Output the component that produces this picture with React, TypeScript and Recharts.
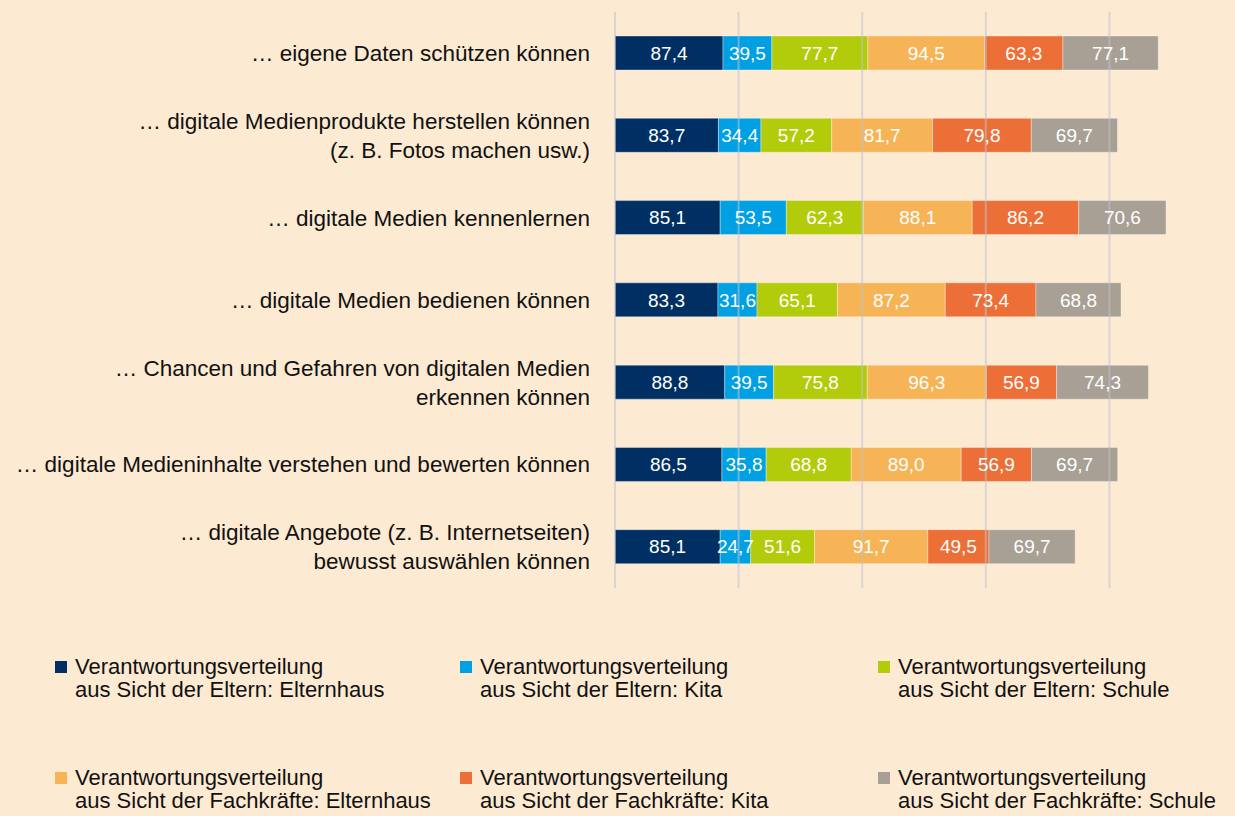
import { BarChart, Bar, XAxis, YAxis, ReferenceLine, LabelList } from 'recharts';

const categories = [
  '…  eigene Daten schützen können',
  '…  digitale Medienprodukte herstellen können\n(z. B. Fotos machen usw.)',
  '…  digitale Medien kennenlernen',
  '…  digitale Medien bedienen können',
  '…  Chancen und Gefahren von digitalen Medien\nerkennen können',
  '…  digitale Medieninhalte verstehen und bewerten können',
  '…  digitale Angebote (z. B. Internetseiten)\nbewusst auswählen können',
];

const elternElternhaus = [87.4, 83.7, 85.1, 83.3, 88.8, 86.5, 85.1];
const elternKita = [39.5, 34.4, 53.5, 31.6, 39.5, 35.8, 24.7];
const elternSchule = [77.7, 57.2, 62.3, 65.1, 75.8, 68.8, 51.6];
const fachElternhaus = [94.5, 81.7, 88.1, 87.2, 96.3, 89.0, 91.7];
const fachKita = [63.3, 79.8, 86.2, 73.4, 56.9, 56.9, 49.5];
const fachSchule = [77.1, 69.7, 70.6, 68.8, 74.3, 69.7, 69.7];

const gridTicks = [0, 100, 200, 300, 400];

const series = [
  { key: 'eE', name: 'Verantwortungsverteilung\naus Sicht der Eltern: Elternhaus', color: '#003063', values: elternElternhaus },
  { key: 'eK', name: 'Verantwortungsverteilung\naus Sicht der Eltern: Kita', color: '#00a0e3', values: elternKita },
  { key: 'eS', name: 'Verantwortungsverteilung\naus Sicht der Eltern: Schule', color: '#b2cb0b', values: elternSchule },
  { key: 'fE', name: 'Verantwortungsverteilung\naus Sicht der Fachkräfte: Elternhaus', color: '#f6b457', values: fachElternhaus },
  { key: 'fK', name: 'Verantwortungsverteilung\naus Sicht der Fachkräfte: Kita', color: '#ec6f37', values: fachKita },
  { key: 'fS', name: 'Verantwortungsverteilung\naus Sicht der Fachkräfte: Schule', color: '#a89f95', values: fachSchule },
];

const data = categories.map((name, i) => {
  const row: any = { name };
  series.forEach((s) => {
    row[s.key] = s.values[i];
  });
  return row;
});

const FONT = '"Liberation Sans", Arial, Helvetica, sans-serif';
const fmt = (v: any) => Number(v).toFixed(1).replace('.', ',');

const CategoryTick = ({ x, y, payload }: any) => {
  const lines = String(payload.value).split('\n');
  const gap = 29;
  const start = y - ((lines.length - 1) * gap) / 2;
  return (
    <text x={x} y={start} textAnchor="end" fill="#111" fontSize={22.5} fontFamily={FONT}>
      {lines.map((l, i) => (
        <tspan key={i} x={x} y={start + i * gap} dy="0.35em">
          {l}
        </tspan>
      ))}
    </text>
  );
};

const legendCols = [55, 460, 878];
const legendRows = [667, 778];

export default function App() {
  return (
    <div
      style={{
        position: 'relative',
        width: 1235,
        height: 816,
        background: '#fdead2',
        fontFamily: FONT,
        overflow: 'hidden',
      }}
    >
      <style>{'body{margin:0}'}</style>
      <BarChart
        width={1235}
        height={600}
        data={data}
        layout="vertical"
        margin={{ top: 12, right: 2, bottom: 12, left: 0 }}
        barSize={34}
      >
        <XAxis type="number" domain={[0, 500]} ticks={gridTicks} hide />
        <YAxis
          type="category"
          dataKey="name"
          width={615}
          axisLine={false}
          tickLine={false}
          tickSize={0}
          tickMargin={25}
          interval={0}
          tick={<CategoryTick />}
        />
        {series.map((s) => (
          <Bar
            key={s.key}
            dataKey={s.key}
            stackId="a"
            fill={s.color}
            stroke="rgba(255,255,255,0.35)"
            strokeWidth={1}
            isAnimationActive={false}
          >
            <LabelList
              dataKey={s.key}
              position="center"
              fill="#ffffff"
              fontSize={19}
              fontFamily={FONT}
              formatter={fmt}
            />
          </Bar>
        ))}
        {gridTicks.map((t) => (
          <ReferenceLine key={t} x={t} stroke="rgba(190,195,210,0.55)" strokeWidth={2} />
        ))}
      </BarChart>
      {series.map((s, i) => {
        const col = legendCols[i % 3];
        const row = legendRows[Math.floor(i / 3)];
        const lines = s.name.split('\n');
        return (
          <div key={s.key} style={{ position: 'absolute', left: col, top: row - 12 }}>
            <div
              style={{
                position: 'absolute',
                left: 0,
                top: 6,
                width: 12,
                height: 12,
                background: s.color,
              }}
            />
            <div
              style={{
                position: 'absolute',
                left: 20,
                top: 0,
                fontSize: 22,
                lineHeight: '23px',
                color: '#111',
                whiteSpace: 'nowrap',
              }}
            >
              {lines.map((l, j) => (
                <div key={j}>{l}</div>
              ))}
            </div>
          </div>
        );
      })}
    </div>
  );
}
